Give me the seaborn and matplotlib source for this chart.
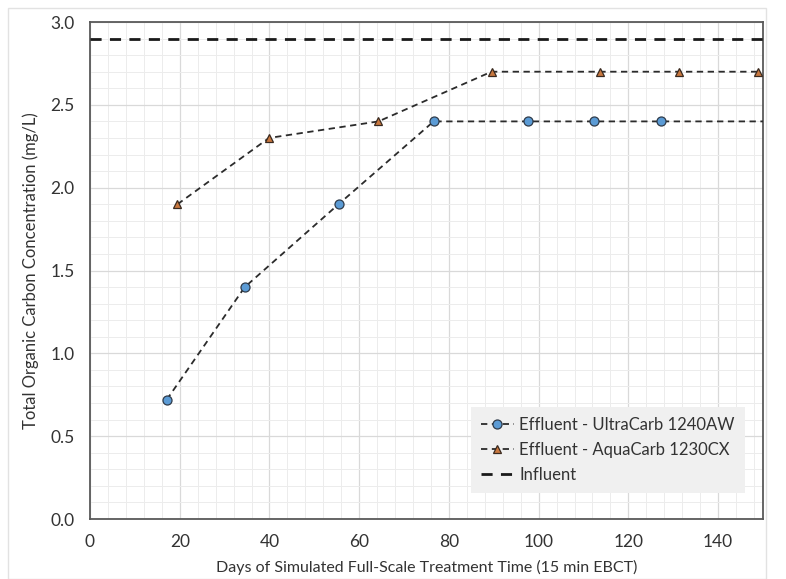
import matplotlib.pyplot as plt
import matplotlib.ticker as mticker
import pandas as pd
import seaborn as sns

# data
ultra_days = [17.1, 34.5, 55.4, 76.6, 97.7, 112.3, 127.3, 160]
ultra_toc = [0.72, 1.40, 1.90, 2.40, 2.40, 2.40, 2.40, 2.40]
aqua_days = [19.5, 39.9, 64.3, 89.5, 113.7, 131.3, 148.9]
aqua_toc = [1.90, 2.30, 2.40, 2.70, 2.70, 2.70, 2.70]
influent_days = [0, 160]
influent_toc = [2.90, 2.90]

ultra = pd.DataFrame({'days': ultra_days, 'toc': ultra_toc})
aqua = pd.DataFrame({'days': aqua_days, 'toc': aqua_toc})
influent = pd.DataFrame({'days': influent_days, 'toc': influent_toc})

sns.set_style('white')
plt.rcParams['font.family'] = ['Lato', 'DejaVu Sans']

fig = plt.figure(figsize=(7.86, 5.79), dpi=100)
ax = fig.add_axes([0.1145, 0.1036, 0.8562, 0.8584])

# marker only on the measured points (last ultra point is off-chart)
n_ultra = len(ultra_days) - 1
sns.lineplot(data=ultra, x='days', y='toc', ax=ax, color='#2b2b2b', lw=1.3,
             linestyle=(0, (3.5, 2.5)), marker='o', markevery=list(range(n_ultra)),
             markersize=6.5, markerfacecolor='#5b9bd5', markeredgecolor='#2f3b4a',
             markeredgewidth=0.9, label='Effluent - UltraCarb 1240AW', zorder=3)
sns.lineplot(data=aqua, x='days', y='toc', ax=ax, color='#2b2b2b', lw=1.3,
             linestyle=(0, (3.5, 2.5)), marker='^', markersize=6,
             markerfacecolor='#c9783f', markeredgecolor='#3a2a20',
             markeredgewidth=0.9, label='Effluent - AquaCarb 1230CX', zorder=3)
sns.lineplot(data=influent, x='days', y='toc', ax=ax, color='#1a1a1a', lw=2.0,
             linestyle=(0, (4, 3)), label='Influent', zorder=3)

ax.set_xlim(0, 150)
ax.set_ylim(0, 3.0)
ax.xaxis.set_major_locator(mticker.MultipleLocator(20))
ax.xaxis.set_minor_locator(mticker.MultipleLocator(4))
ax.yaxis.set_major_locator(mticker.MultipleLocator(0.5))
ax.yaxis.set_minor_locator(mticker.MultipleLocator(0.1))
ax.yaxis.set_major_formatter(mticker.FormatStrFormatter('%.1f'))
ax.grid(which='major', color='#d9d9d9', lw=0.9, zorder=0)
ax.grid(which='minor', color='#ececec', lw=0.7, zorder=0)
ax.set_axisbelow(True)

for side in ['left', 'bottom', 'top', 'right']:
    ax.spines[side].set_color('#595959')
    ax.spines[side].set_linewidth(1.3)
ax.tick_params(axis='both', which='major', direction='out', length=5, width=1.2,
               color='#595959', labelsize=12.5, labelcolor='#333333', pad=6)
ax.tick_params(axis='both', which='minor', length=0)

ax.set_xlabel('Days of Simulated Full-Scale Treatment Time (15 min EBCT)', fontsize=11.5,
              color='#333333', labelpad=7)
ax.set_ylabel('Total Organic Carbon Concentration (mg/L)', fontsize=12,
              color='#333333', labelpad=8)

leg = ax.legend(loc='lower right', bbox_to_anchor=(0.985, 0.035), fontsize=12,
                frameon=True, facecolor='#f0f0f0', edgecolor='none', framealpha=1,
                handlelength=2.0, handletextpad=0.3, borderpad=0.6, labelspacing=0.55)
leg.get_frame().set_boxstyle('square', pad=0)
for t in leg.get_texts():
    t.set_color('#333333')

# faint outer frame
fig.patches.append(plt.Rectangle((0.01, 0.0), 0.965, 0.986, transform=fig.transFigure,
                                 fill=False, edgecolor='#e2e2e2', lw=1.0))

fig.savefig('out.png', dpi=100)
